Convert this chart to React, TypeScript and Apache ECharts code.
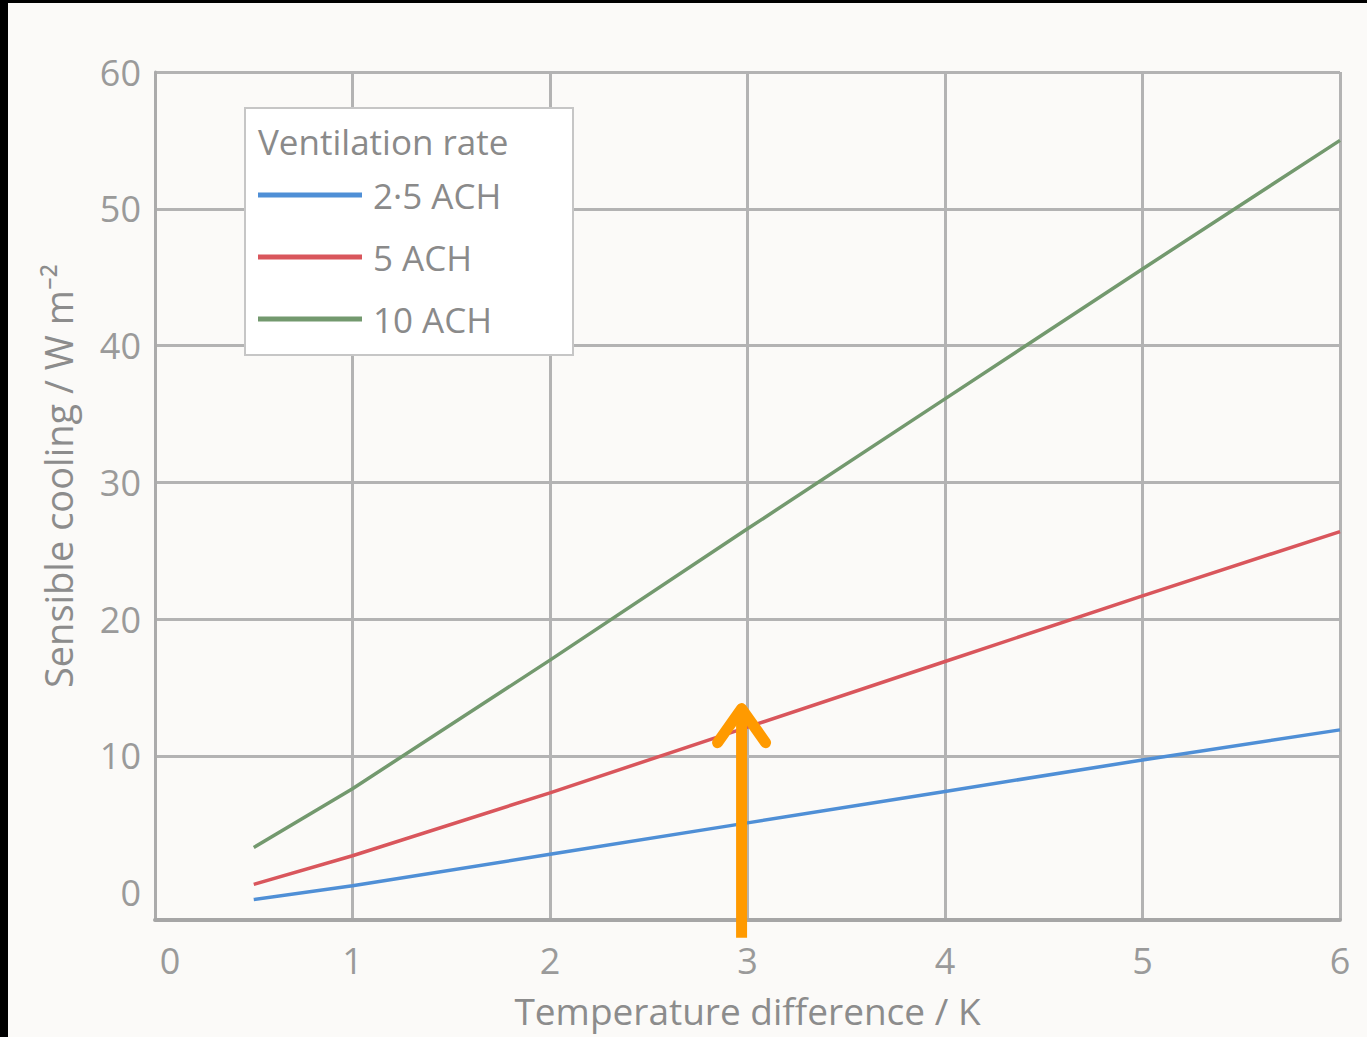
import React, { useEffect, useRef } from 'react';
import * as echarts from 'echarts';

const FONT = '"Open Sans", "Noto Sans", sans-serif';

// Data
const tempDiff = [0.5, 1, 2, 3, 4, 5, 6];
const ach25 = [-0.5, 0.5, 2.8, 5.1, 7.4, 9.7, 11.9];
const ach5 = [0.6, 2.7, 7.3, 12.1, 16.9, 21.7, 26.4];
const ach10 = [3.3, 7.6, 17.0, 26.6, 36.1, 45.6, 55.0];
const seriesNames = ['2·5 ACH', '5 ACH', '10 ACH'];
const seriesColors = ['#4f8fd6', '#d9565c', '#73996e'];
const legendTitle = 'Ventilation rate';
const xName = 'Temperature difference / K';
const yName = 'Sensible cooling / W m⁻²';

// Annotation arrow (data coordinates)
const arrowX = 2.97;
const arrowFrom = -3.3;
const arrowTo = 13.6;

export default function App() {
  const ref = useRef<HTMLDivElement>(null);

  useEffect(() => {
    if (!ref.current) return;
    const chart = echarts.init(ref.current, undefined, { renderer: 'svg' });
    const gridColor = '#b3b3b3';
    const labelColor = '#9a9a9a';
    const allSeries = [ach25, ach5, ach10];

    const option: any = {
      animation: false,
      backgroundColor: '#fbfaf8',
      textStyle: { fontFamily: FONT },
      grid: { left: 155, right: 27, top: 72, bottom: 117, containLabel: false, outerBoundsMode: 'none' },
      legend: {
        orient: 'vertical',
        left: 253,
        top: 172,
        icon: 'rect',
        itemWidth: 104,
        itemHeight: 5,
        itemGap: 26,
        z: 6,
        textStyle: { fontSize: 35, color: '#8a8a8a', fontFamily: FONT, padding: [0, 0, 0, 6], lineHeight: 36 },
        data: seriesNames,
      },
      xAxis: {
        type: 'value',
        min: 0,
        max: 6,
        interval: 1,
        name: xName,
        nameLocation: 'middle',
        nameGap: 72,
        nameTextStyle: { fontSize: 37, color: '#8c8c8c', fontFamily: FONT },
        axisLine: { show: true, onZero: false, lineStyle: { color: '#a6a6a6', width: 4 } },
        axisTick: { show: false },
        axisLabel: {
          show: true,
          showMinLabel: true,
          showMaxLabel: true,
          fontSize: 36,
          color: labelColor,
          margin: 22,
          fontFamily: FONT,
          formatter: (v: number) => (v === 0 ? '{z|0}' : String(v)),
          rich: { z: { fontSize: 36, color: labelColor, fontFamily: FONT, padding: [0, 0, 0, 30] } },
        },
        splitLine: { show: true, lineStyle: { color: gridColor, width: 3 } },
      },
      yAxis: {
        type: 'value',
        min: -2,
        max: 60,
        splitNumber: 6,
        name: yName,
        nameLocation: 'middle',
        nameGap: 78,
        nameTextStyle: { fontSize: 38, color: '#8c8c8c', fontFamily: FONT, padding: [0, 0, 0, 40] },
        axisLine: { show: true, lineStyle: { color: '#ababab', width: 3 } },
        axisTick: { show: false },
        axisLabel: {
          show: true,
          showMinLabel: true,
          showMaxLabel: true,
          fontSize: 36,
          color: labelColor,
          margin: 14,
          fontFamily: FONT,
          formatter: (v: number) => (v < 0 ? '' : String(v)),
        },
        splitLine: {
          show: true,
          lineStyle: {
            color: [gridColor, 'rgba(0,0,0,0)', gridColor, gridColor, gridColor, gridColor, gridColor, gridColor],
            width: 3,
          },
        },
      },
      series: allSeries.map((vals, i) => ({
        name: seriesNames[i],
        type: 'line',
        data: tempDiff.map((x, j) => [x, vals[j]]),
        showSymbol: false,
        symbol: 'none',
        color: seriesColors[i],
        lineStyle: { width: 3.5, color: seriesColors[i] },
        z: 3,
      })),
    };

    chart.setOption(option);

    const tip = chart.convertToPixel({ gridIndex: 0 }, [arrowX, arrowTo]) as number[];
    const base = chart.convertToPixel({ gridIndex: 0 }, [arrowX, arrowFrom]) as number[];
    const ax = tip[0];

    chart.setOption({
      graphic: [
        {
          id: 'legendBox', type: 'rect', z: 4,
          shape: { x: 245, y: 108, width: 328, height: 247 },
          style: { fill: '#ffffff', stroke: '#c6c6c6', lineWidth: 2 },
        },
        {
          id: 'legendTitle', type: 'text', z: 6, x: 258, y: 141,
          style: { text: legendTitle, fontSize: 35, fill: '#8a8a8a', fontFamily: FONT, verticalAlign: 'middle', align: 'left' },
        },
        {
          id: 'arrowShaft', type: 'line', z: 10,
          shape: { x1: ax, y1: base[1], x2: ax, y2: tip[1] + 4 },
          style: { stroke: '#ff9a00', lineWidth: 11, lineCap: 'butt' },
        },
        {
          id: 'arrowHead', type: 'polyline', z: 10,
          shape: { points: [[ax - 24, tip[1] + 36], [ax, tip[1] + 2], [ax + 24, tip[1] + 36]] },
          style: { stroke: '#ff9a00', lineWidth: 11, lineCap: 'round', lineJoin: 'round', fill: 'none' },
        },
        {
          id: 'frameTop', type: 'rect', z: 20,
          shape: { x: 0, y: 0, width: 1367, height: 3 },
          style: { fill: '#000000' },
        },
        {
          id: 'frameLeft', type: 'rect', z: 20,
          shape: { x: 0, y: 0, width: 8, height: 1037 },
          style: { fill: '#000000' },
        },
      ],
    });

    return () => chart.dispose();
  }, []);

  return (
    <div
      ref={ref}
      style={{ position: 'fixed', left: 0, top: 0, width: 1367, height: 1037 }}
    />
  );
}
